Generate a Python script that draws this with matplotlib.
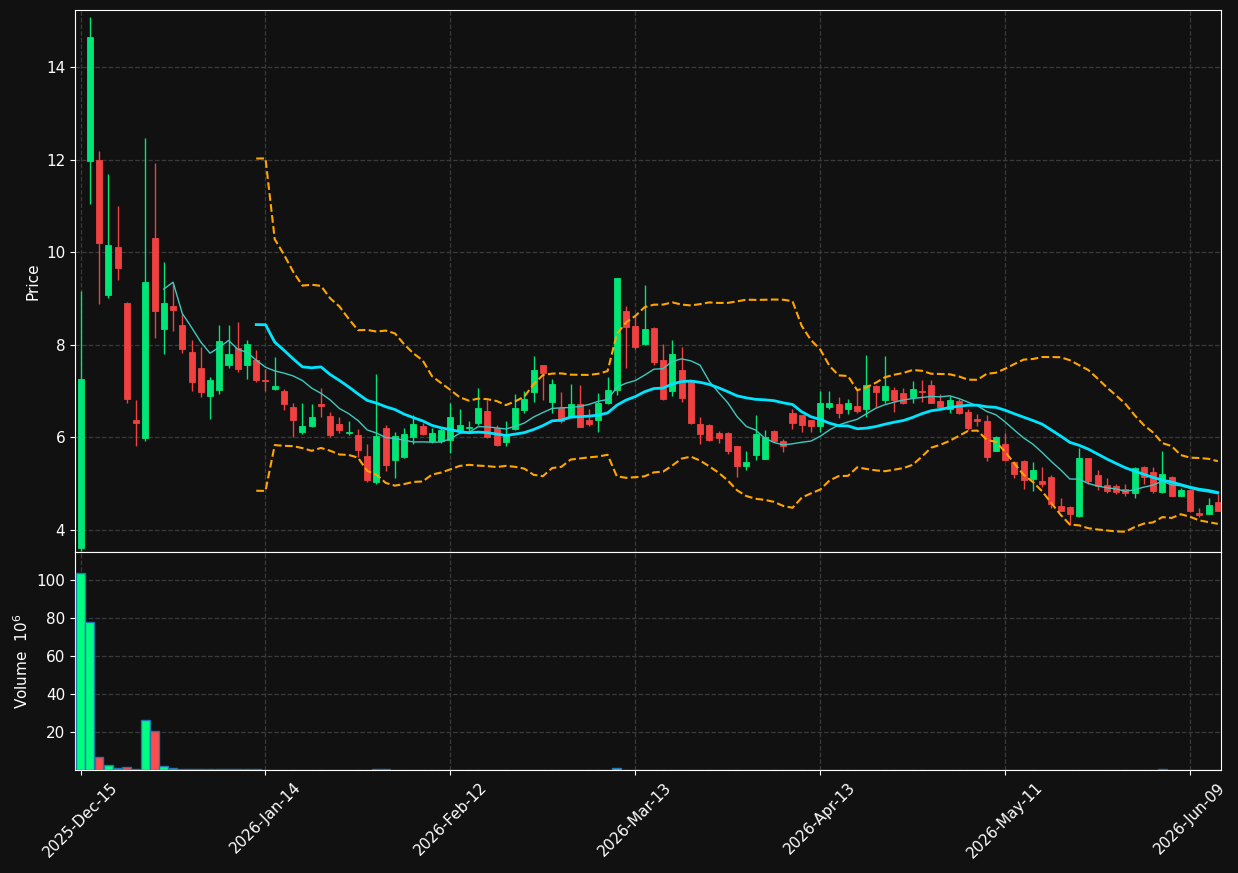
"""
Candlestick chart with moving averages, Bollinger bands and volume panel
"""

import numpy as np
import pandas as pd
import matplotlib
matplotlib.use('Agg')
import matplotlib.pyplot as plt


# daily prices, one entry per trading day
opens = [3.6, 11.96, 11.98, 9.07, 10.11, 8.9, 6.37, 5.99, 10.31, 8.33,
         8.84, 8.43, 7.85, 7.5, 6.88, 7.01, 7.55, 7.92, 7.57, 7.66,
         7.24, 7.05, 7.0, 6.65, 6.11, 6.24, 6.72, 6.46, 6.29, 6.10,
         6.05, 5.6, 5.03, 6.2, 5.5, 5.58, 6.0, 6.24, 5.92, 5.92,
         5.93, 6.16, 6.2, 6.31, 6.57, 6.19, 5.9, 6.18, 6.59, 6.98,
         7.55, 6.77, 6.64, 6.44, 6.72, 6.37, 6.37, 6.73, 7.02, 8.73,
         8.41, 8.02, 8.35, 7.67, 7.0, 7.45, 7.22, 6.29, 6.27, 6.09,
         6.09, 5.81, 5.37, 5.62, 5.54, 6.14, 5.92, 6.53, 6.47, 6.37,
         6.25, 6.66, 6.72, 6.62, 6.67, 6.61, 7.1, 6.8, 7.02, 6.95,
         6.86, 7.0, 7.13, 6.78, 6.6, 6.78, 6.55, 6.39, 6.35, 5.71,
         5.86, 5.46, 5.48, 5.1, 5.06, 5.15, 4.52, 4.5, 4.29, 5.55,
         5.19, 4.97, 4.95, 4.88, 4.79, 5.36, 5.24, 4.81, 5.15, 4.74,
         4.86, 4.37, 4.35, 4.61]
highs = [9.15, 15.08, 12.18, 11.68, 11.0, 8.92, 6.8, 12.46, 11.92, 9.78,
         9.33, 8.67, 8.09, 7.96, 7.31, 8.43, 8.43, 8.48, 8.09, 7.88,
         7.47, 7.74, 7.05, 6.75, 6.75, 6.72, 7.07, 6.55, 6.44, 6.34,
         6.18, 5.85, 7.36, 6.26, 6.11, 6.19, 6.49, 6.3, 6.21, 6.23,
         6.73, 6.62, 6.36, 7.07, 6.8, 6.26, 6.34, 6.94, 7.0, 7.76,
         7.57, 7.25, 6.98, 7.14, 7.12, 6.6, 6.96, 7.3, 9.45, 8.84,
         8.63, 9.29, 8.39, 8.02, 8.1, 7.95, 7.24, 6.43, 6.28, 6.14,
         6.12, 5.82, 5.71, 6.48, 6.16, 6.16, 5.96, 6.61, 6.48, 6.38,
         7.0, 7.0, 6.86, 6.82, 7.03, 7.78, 7.12, 7.76, 7.09, 7.07,
         7.21, 7.23, 7.23, 6.93, 6.89, 6.82, 6.6, 6.5, 6.47, 6.03,
         6.1, 5.48, 5.5, 5.46, 5.35, 5.19, 4.69, 4.51, 5.77, 5.56,
         5.29, 5.12, 4.99, 5.0, 5.35, 5.37, 5.36, 5.71, 5.17, 4.9,
         4.88, 4.48, 4.69, 4.77]
lows = [3.55, 11.03, 8.87, 9.0, 9.39, 6.75, 5.8, 5.92, 8.14, 7.79,
        8.29, 7.81, 7.0, 6.86, 6.40, 6.94, 7.49, 7.40, 7.25, 7.19,
        6.99, 7.03, 6.58, 6.01, 6.07, 6.22, 6.43, 6.0, 6.1, 6.04,
        5.58, 5.03, 5.0, 5.26, 5.12, 5.56, 5.85, 6.05, 5.87, 5.87,
        5.66, 6.14, 6.12, 6.26, 5.98, 5.8, 5.8, 6.16, 6.52, 6.77,
        6.8, 6.52, 6.31, 6.42, 6.22, 6.24, 6.12, 6.71, 6.91, 7.5,
        7.91, 8.0, 7.57, 6.81, 6.89, 6.77, 6.29, 5.85, 5.92, 5.87,
        5.64, 5.14, 5.3, 5.5, 5.52, 5.9, 5.69, 6.17, 6.11, 6.12,
        6.12, 6.62, 6.41, 6.5, 6.52, 6.43, 6.66, 6.73, 6.55, 6.72,
        6.73, 6.77, 6.74, 6.64, 6.53, 6.51, 6.16, 6.24, 5.48, 5.7,
        5.49, 5.12, 4.88, 4.83, 4.92, 4.47, 4.4, 4.11, 4.28, 5.0,
        4.86, 4.79, 4.77, 4.74, 4.69, 4.99, 4.79, 4.8, 4.73, 4.73,
        4.39, 4.28, 4.34, 4.4]
closes = [7.25, 14.65, 10.2, 10.15, 9.65, 6.83, 6.30, 9.36, 8.72, 8.9,
          8.74, 7.9, 7.19, 6.98, 7.24, 8.08, 7.8, 7.47, 8.02, 7.23,
          7.21, 7.11, 6.71, 6.37, 6.24, 6.44, 6.68, 6.05, 6.16, 6.12,
          5.73, 5.08, 6.03, 5.41, 6.03, 6.07, 6.29, 6.07, 6.1, 6.16,
          6.43, 6.26, 6.22, 6.64, 6.0, 5.84, 6.06, 6.64, 6.82, 7.46,
          7.39, 7.16, 6.34, 6.71, 6.23, 6.29, 6.73, 7.02, 9.43, 8.38,
          7.95, 8.33, 7.62, 6.83, 7.79, 6.85, 6.31, 6.08, 5.93, 5.99,
          5.71, 5.37, 5.47, 6.07, 6.01, 5.92, 5.8, 6.31, 6.26, 6.25,
          6.75, 6.74, 6.53, 6.74, 6.57, 7.12, 6.98, 7.1, 6.8, 6.73,
          7.05, 6.97, 6.75, 6.65, 6.8, 6.52, 6.19, 6.34, 5.58, 6.0,
          5.5, 5.2, 5.07, 5.3, 5.0, 4.56, 4.41, 4.35, 5.55, 5.06,
          4.95, 4.83, 4.81, 4.79, 5.34, 5.13, 4.84, 5.21, 4.74, 4.86,
          4.4, 4.33, 4.53, 4.41]

# volume in millions
volumes = [103.7, 77.9, 7.0, 2.6, 1.0, 1.75, 0.7, 26.4, 20.7, 2.1,
           1.2, 0.5, 0.5, 0.4, 0.5, 0.4, 0.4, 0.3, 0.4, 0.3,
           0.15, 0.1, 0.1, 0.1, 0.1, 0.1, 0.1, 0.1, 0.1, 0.1,
           0.1, 0.2, 0.6, 0.3, 0.1, 0.1, 0.1, 0.1, 0.1, 0.1,
           0.1, 0.1, 0.1, 0.1, 0.1, 0.1, 0.1, 0.1, 0.1, 0.1,
           0.1, 0.1, 0.1, 0.1, 0.1, 0.1, 0.1, 0.1, 1.0, 0.2,
           0.1, 0.1, 0.1, 0.1, 0.1, 0.1, 0.1, 0.1, 0.1, 0.1,
           0.1, 0.1, 0.1, 0.1, 0.1, 0.1, 0.1, 0.1, 0.1, 0.1,
           0.1, 0.1, 0.1, 0.1, 0.1, 0.1, 0.1, 0.1, 0.1, 0.1,
           0.1, 0.1, 0.1, 0.1, 0.1, 0.1, 0.1, 0.1, 0.1, 0.1,
           0.1, 0.1, 0.1, 0.1, 0.1, 0.1, 0.1, 0.1, 0.1, 0.1,
           0.1, 0.1, 0.1, 0.1, 0.1, 0.1, 0.1, 0.4, 0.1, 0.1,
           0.1, 0.1, 0.1, 0.1]

holidays = ['2025-12-25', '2026-01-01', '2026-01-19', '2026-02-16',
            '2026-04-03', '2026-05-25']
dates = pd.bdate_range('2025-12-15', periods=len(closes), freq='C',
                       holidays=holidays)

df = pd.DataFrame({'Open': opens, 'High': highs, 'Low': lows,
                   'Close': closes, 'Volume': volumes}, index=dates)

# indicators
df['MA10'] = df['Close'].rolling(10).mean()
df['MA20'] = df['Close'].rolling(20).mean()
std20 = df['Close'].rolling(20).std(ddof=0)
df['BBup'] = df['MA20'] + 2 * std20
df['BBlo'] = df['MA20'] - 2 * std20

bg = '#111111'
up_col = '#00e676'
down_col = '#f04040'
grid_col = '#3a3a3a'

fig = plt.figure(figsize=(12.38, 8.73), dpi=100, facecolor=bg)
ax = fig.add_axes([0.0606, 0.3677, 0.9257, 0.6208], facecolor=bg)
axv = fig.add_axes([0.0606, 0.118, 0.9257, 0.2497], facecolor=bg, sharex=ax)

x = np.arange(len(df))
rising = df['Close'] >= df['Open']
colors = np.where(rising, up_col, down_col)

# wicks and bodies
ax.vlines(x, df['Low'], df['High'], colors=colors, linewidth=1, zorder=3)
body_low = np.minimum(df['Open'], df['Close'])
body_h = np.abs(df['Close'] - df['Open'])
ax.bar(x, body_h, bottom=body_low, width=0.65, color=colors,
       edgecolor=colors, linewidth=0.6, zorder=4)

# moving averages and bands
ax.plot(x, df['MA10'], color='#3fc8c0', linewidth=1, zorder=5)
ax.plot(x, df['MA20'], color='#00e5ff', linewidth=2, zorder=5)
ax.plot(x, df['BBup'], color='#ffa500', linewidth=1.5, linestyle='--', zorder=5)
ax.plot(x, df['BBlo'], color='#ffa500', linewidth=1.5, linestyle='--', zorder=5)

# volume
vol_colors = np.where(rising, '#00ff80', '#ff4d4d')
axv.bar(x, df['Volume'], width=0.95, color=vol_colors,
        edgecolor='#1f77b4', linewidth=1, zorder=3)

ax.set_xlim(-0.6, len(df) - 0.65)
ax.set_ylim(3.52, 15.23)
axv.set_ylim(0, 114.7)
ax.set_yticks([4, 6, 8, 10, 12, 14])
axv.set_yticks([20, 40, 60, 80, 100])

tick_pos = list(range(0, len(df), 20))
axv.set_xticks(tick_pos)
axv.set_xticklabels([dates[i].strftime('%Y-%b-%d') for i in tick_pos],
                    rotation=45, ha='center')
plt.setp(ax.get_xticklabels(), visible=False)

for a in (ax, axv):
    a.grid(True, color=grid_col, linestyle='--', linewidth=0.9)
    a.set_axisbelow(True)
    for s in a.spines.values():
        s.set_color('white')
    a.tick_params(colors='white', labelsize=11)

ax.set_ylabel('Price', color='white', fontsize=11)
axv.set_ylabel('Volume  $10^6$', color='white', fontsize=11)

fig.savefig('out.png', dpi=100, facecolor=bg)
